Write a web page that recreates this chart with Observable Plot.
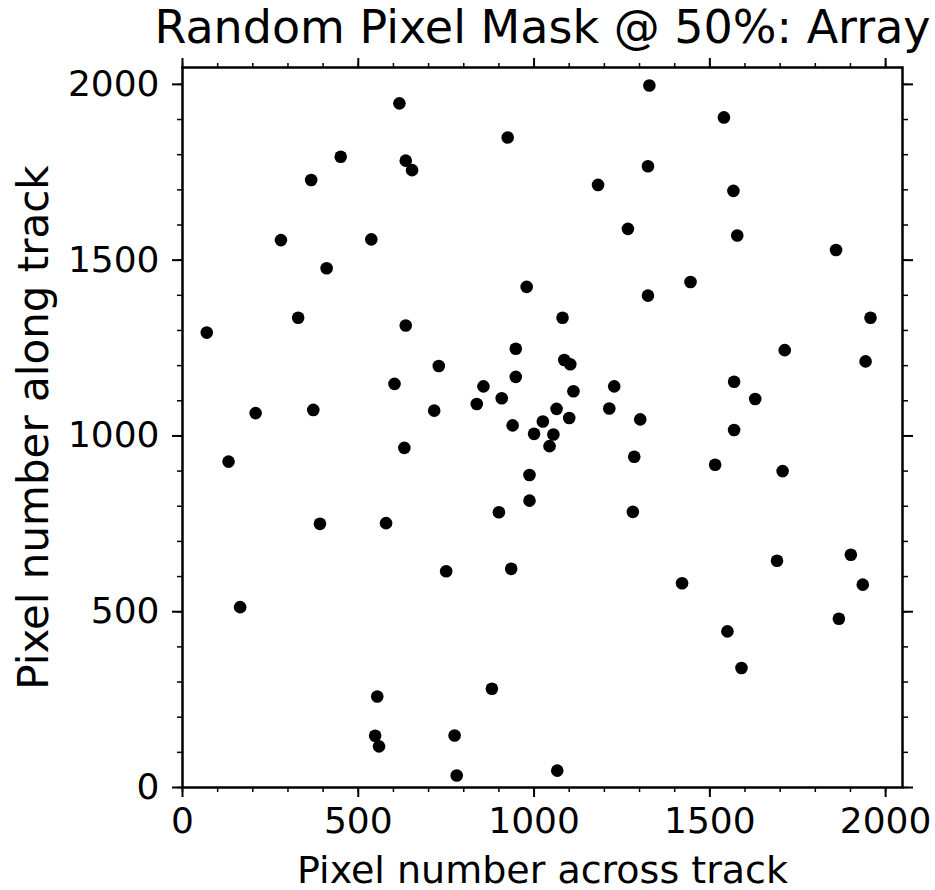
<!DOCTYPE html>
<html>
<head>
<meta charset="utf-8">
<script src="https://cdn.jsdelivr.net/npm/d3@7"></script>
<script src="https://cdn.jsdelivr.net/npm/@observablehq/plot@0.6"></script>
<style>
  html, body { margin: 0; padding: 0; background: white; }
</style>
</head>
<body>
<div id="chart"></div>
<script>
const titleText = "Random Pixel Mask @ 50%: Array";
const xLabel = "Pixel number across track";
const yLabel = "Pixel number along track";

const majorTicks = [0, 500, 1000, 1500, 2000];
const minorTicks = [0, 100, 200, 300, 400, 500, 600, 700, 800, 900, 1000, 1100, 1200, 1300, 1400, 1500, 1600, 1700, 1800, 1900, 2000];

const acrossTrack = [
  617, 925, 450, 635, 653, 366, 280, 537, 410, 979,
  329, 635, 69, 948, 1328, 1540, 1324, 1182, 1567, 1267,
  1578, 1859, 1445, 1324, 1081, 1957, 729, 948, 603, 856,
  908, 837, 372, 716, 208, 939, 1025, 1000, 1044, 631,
  131, 987, 987, 900, 391, 579, 750, 935, 164, 1086,
  1103, 1713, 1943, 1569, 1112, 1228, 1629, 1064, 1214, 1100,
  1302, 1055, 1569, 1285, 1515, 1707, 1281, 1901, 1691, 1421,
  1935, 1867, 1550, 1590, 554, 880, 548, 559, 774, 780,
  1066
];
const alongTrack = [
  1946, 1849, 1794, 1783, 1756, 1728, 1557, 1559, 1477, 1424,
  1336, 1314, 1294, 1248, 1997, 1906, 1767, 1714, 1697, 1589,
  1570, 1529, 1438, 1399, 1336, 1336, 1199, 1168, 1148, 1141,
  1107, 1091, 1074, 1072, 1065, 1030, 1041, 1006, 971, 966,
  927, 889, 816, 783, 750, 752, 615, 622, 513, 1216,
  1204, 1244, 1212, 1154, 1127, 1141, 1105, 1077, 1078, 1051,
  1047, 1004, 1017, 941, 918, 900, 784, 662, 645, 581,
  577, 480, 444, 340, 259, 281, 147, 117, 148, 34,
  48
];

const points = acrossTrack.map((x, i) => ({x, y: alongTrack[i]}));
const fmt = d => String(d);
const blank = () => "";

const chart = Plot.plot({
  width: 935,
  height: 890,
  marginLeft: 182,
  marginRight: 33,
  marginTop: 67,
  marginBottom: 103,
  x: {domain: [0, 2048]},
  y: {domain: [0, 2048]},
  style: {fontFamily: "DejaVu Sans", fontSize: "36px", color: "black", background: "white"},
  marks: [
    // minor ticks on all four sides
    Plot.axisX({anchor: "bottom", ticks: minorTicks, tickSize: 5, strokeWidth: 1.5, tickFormat: blank, label: null}),
    Plot.axisX({anchor: "top", ticks: minorTicks, tickSize: 5, strokeWidth: 1.5, tickFormat: blank, label: null}),
    Plot.axisY({anchor: "left", ticks: minorTicks, tickSize: 5, strokeWidth: 1.5, tickFormat: blank, label: null}),
    Plot.axisY({anchor: "right", ticks: minorTicks, tickSize: 5, strokeWidth: 1.5, tickFormat: blank, label: null}),
    // major ticks with labels
    Plot.axisX({anchor: "bottom", ticks: majorTicks, tickSize: 10, tickPadding: 10, strokeWidth: 2, tickFormat: fmt, fontSize: 36, label: null}),
    Plot.axisX({anchor: "top", ticks: majorTicks, tickSize: 10, strokeWidth: 2, tickFormat: blank, label: null}),
    Plot.axisY({anchor: "left", ticks: majorTicks, tickSize: 10, tickPadding: 13, strokeWidth: 2, tickFormat: fmt, fontSize: 36, label: null}),
    Plot.axisY({anchor: "right", ticks: majorTicks, tickSize: 10, strokeWidth: 2, tickFormat: blank, label: null}),
    Plot.frame({stroke: "black", strokeWidth: 2.5}),
    Plot.dot(points, {x: "x", y: "y", r: 6.3, fill: "black", stroke: "none"}),
    // axis titles and chart title
    Plot.text([xLabel], {frameAnchor: "bottom", dy: 95, lineAnchor: "bottom", fontSize: 38, fill: "black"}),
    Plot.text([yLabel], {frameAnchor: "left", dx: -164, rotate: -90, textAnchor: "middle", lineAnchor: "top", fontSize: 42, fill: "black"}),
    Plot.text([titleText], {frameAnchor: "top", dy: -25, lineAnchor: "bottom", fontSize: 46, fill: "black"})
  ]
});

document.getElementById("chart").appendChild(chart);
</script>
</body>
</html>
